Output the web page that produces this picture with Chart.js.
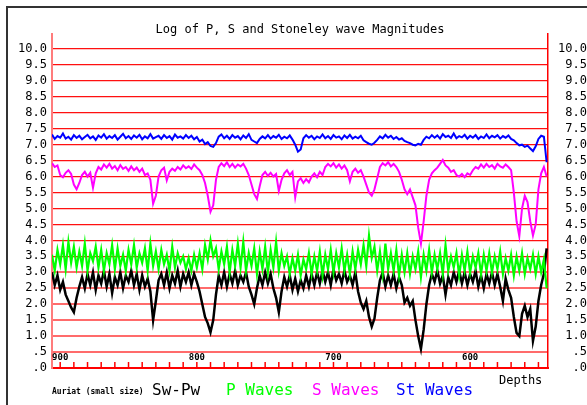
<!DOCTYPE html>
<html lang="en">
  <head>
    <meta charset="UTF-8" />
    <title>Log of P, S and Stoneley wave Magnitudes</title>
    <style>
      body {
        margin: 0;
        background: #fff;
      }
      #wrap {
        width: 587px;
        height: 405px;
      }
    </style>
    <script src="https://cdn.jsdelivr.net/npm/chart.js"></script>
  </head>
  <body>
    <div id="wrap"><canvas id="logChart" width="587" height="405"></canvas></div>
    <script>
      // depth samples (x axis, reversed: 906 on the left, 544 on the right)
      const depths = [
        906, 904, 902, 900, 898, 896, 894, 892, 890, 888,
        886, 884, 882, 880, 878, 876, 874, 872, 870, 868,
        866, 864, 862, 860, 858, 856, 854, 852, 850, 848,
        846, 844, 842, 840, 838, 836, 834, 832, 830, 828,
        826, 824, 822, 820, 818, 816, 814, 812, 810, 808,
        806, 804, 802, 800, 798, 796, 794, 792, 790, 788,
        786, 784, 782, 780, 778, 776, 774, 772, 770, 768,
        766, 764, 762, 760, 758, 756, 754, 752, 750, 748,
        746, 744, 742, 740, 738, 736, 734, 732, 730, 728,
        726, 724, 722, 720, 718, 716, 714, 712, 710, 708,
        706, 704, 702, 700, 698, 696, 694, 692, 690, 688,
        686, 684, 682, 680, 678, 676, 674, 672, 670, 668,
        666, 664, 662, 660, 658, 656, 654, 652, 650, 648,
        646, 644, 642, 640, 638, 636, 634, 632, 630, 628,
        626, 624, 622, 620, 618, 616, 614, 612, 610, 608,
        606, 604, 602, 600, 598, 596, 594, 592, 590, 588,
        586, 584, 582, 580, 578, 576, 574, 572, 570, 568,
        566, 564, 562, 560, 558, 556, 554, 552, 550, 548,
        546, 544
      ];

      // Stoneley wave magnitudes (blue)
      const stWaves = [
        7.32, 7.18, 7.27, 7.22, 7.35, 7.19, 7.25, 7.16, 7.30, 7.21,
        7.28, 7.17, 7.24, 7.31, 7.20, 7.26, 7.15, 7.29, 7.22, 7.33,
        7.19, 7.27, 7.21, 7.30, 7.16, 7.25, 7.34, 7.20, 7.27, 7.18,
        7.29, 7.22, 7.31, 7.17, 7.26, 7.20, 7.33, 7.19, 7.24, 7.28,
        7.18, 7.30, 7.21, 7.27, 7.16, 7.32, 7.22, 7.26, 7.19, 7.30,
        7.21, 7.28, 7.17, 7.24, 7.10, 7.16, 7.02, 7.08, 6.96, 6.93,
        7.05, 7.25, 7.32, 7.20, 7.28, 7.18, 7.30, 7.22, 7.27, 7.17,
        7.29, 7.21, 7.33, 7.15, 7.10, 7.05, 7.18, 7.26, 7.20, 7.30,
        7.19, 7.27, 7.22, 7.31, 7.18, 7.25, 7.20, 7.29, 7.16, 7.00,
        6.78, 6.85, 7.20, 7.30, 7.22, 7.28, 7.17, 7.26, 7.21, 7.32,
        7.20, 7.27, 7.18, 7.30, 7.22, 7.26, 7.17, 7.29, 7.21, 7.31,
        7.19, 7.25, 7.20, 7.28, 7.14, 7.08, 7.03, 7.00, 7.06, 7.15,
        7.26, 7.20, 7.31, 7.22, 7.28, 7.18, 7.24, 7.16, 7.20, 7.12,
        7.08, 7.05, 7.00, 6.98, 7.03, 7.00, 7.15, 7.25, 7.20, 7.30,
        7.22, 7.29, 7.19, 7.33, 7.24, 7.28, 7.21, 7.35, 7.20, 7.27,
        7.23, 7.31, 7.19, 7.28, 7.22, 7.30, 7.18, 7.26, 7.21, 7.32,
        7.20, 7.28, 7.23, 7.30, 7.19, 7.27, 7.22, 7.29, 7.18, 7.14,
        7.05, 6.98, 7.00, 6.93, 6.97, 6.88, 6.80, 6.95, 7.18, 7.28,
        7.25, 6.45
      ];

      // S wave magnitudes (magenta)
      const sWaves = [
        6.42, 6.30, 6.35, 6.05, 5.98, 6.12, 6.20, 6.08, 5.75, 5.60,
        5.80, 6.05, 6.15, 6.00, 6.12, 5.65, 6.10, 6.30, 6.22, 6.38,
        6.28, 6.40, 6.25, 6.33, 6.20, 6.36, 6.24, 6.30, 6.18, 6.32,
        6.20, 6.28, 6.15, 6.25, 6.05, 6.10, 5.90, 5.15, 5.40, 6.00,
        6.20, 6.28, 5.88, 6.15, 6.25, 6.18, 6.30, 6.22, 6.35, 6.26,
        6.32, 6.24, 6.38, 6.28, 6.20, 6.05, 5.80, 5.40, 4.90, 5.10,
        5.90, 6.30, 6.42, 6.33, 6.45, 6.30, 6.40, 6.28, 6.38, 6.32,
        6.40, 6.25, 6.05, 5.75, 5.45, 5.30, 5.70, 6.05, 6.15, 6.02,
        6.12, 6.00, 6.08, 5.55, 5.90, 6.10, 6.20, 6.05, 6.15, 5.35,
        5.85, 5.95, 5.80, 5.92, 5.82, 6.00, 6.10, 5.98, 6.15, 6.05,
        6.30, 6.40, 6.32, 6.42, 6.28, 6.38, 6.25, 6.35, 6.20, 5.85,
        6.15, 6.25, 6.12, 6.20, 6.00, 5.75, 5.50, 5.40, 5.60, 5.95,
        6.30, 6.42, 6.35, 6.45, 6.32, 6.40, 6.30, 6.15, 5.90, 5.60,
        5.45, 5.60, 5.35, 5.10, 4.40, 3.90, 4.60, 5.40, 5.90, 6.10,
        6.20, 6.28, 6.40, 6.52, 6.35, 6.28, 6.15, 6.20, 6.05, 6.00,
        6.08, 5.98, 6.10, 6.05, 6.20, 6.30, 6.25, 6.38, 6.28, 6.40,
        6.30, 6.36, 6.25, 6.40, 6.32, 6.28, 6.38, 6.30, 6.20, 5.50,
        4.60, 4.13, 5.00, 5.40, 5.20, 4.60, 4.15, 4.50, 5.60, 6.10,
        6.30, 6.00
      ];

      // P wave magnitudes (green)
      const pWaves = [
        3.55, 3.05, 3.70, 3.25, 3.85, 3.10, 3.95, 3.30, 3.80, 3.15,
        3.65, 3.20, 3.90, 3.05, 3.60, 3.35, 3.80, 3.15, 3.70, 3.05,
        3.60, 3.25, 3.85, 3.10, 3.75, 3.20, 3.55, 3.05, 3.70, 3.25,
        3.85, 3.15, 3.60, 3.30, 3.75, 3.05, 3.90, 3.20, 3.65, 3.10,
        3.70, 3.25, 3.55, 3.05, 3.80, 3.15, 3.60, 3.30, 3.50, 3.10,
        3.45, 3.05, 3.55, 3.15, 3.60, 3.10, 3.85, 3.40, 4.00, 3.50,
        3.75, 3.10, 3.65, 3.25, 3.80, 3.00, 3.70, 3.20, 3.90, 3.15,
        3.95, 3.05, 3.60, 3.20, 3.75, 2.95, 3.65, 3.10, 3.80, 3.00,
        3.70, 3.15, 3.95, 3.05, 3.60, 3.20, 3.50, 2.95, 3.45, 3.05,
        3.55, 2.90, 3.40, 3.10, 3.60, 2.95, 3.50, 3.05, 3.65, 2.90,
        3.55, 3.10, 3.70, 3.00, 3.60, 3.15, 3.75, 3.05, 3.55, 2.95,
        3.65, 3.10, 3.70, 3.25, 3.85, 3.20, 4.15, 3.45, 3.80, 3.05,
        3.65, 2.95, 3.90, 3.10, 3.60, 3.05, 3.70, 2.90, 3.55, 3.00,
        3.60, 2.95, 3.50, 3.10, 3.65, 2.85, 3.55, 3.05, 3.70, 3.00,
        3.55, 3.10, 3.60, 2.95, 3.85, 3.05, 3.50, 3.15, 3.60, 2.90,
        3.55, 3.05, 3.65, 3.00, 3.50, 3.15, 3.60, 2.95, 3.55, 3.05,
        3.60, 3.00, 3.50, 3.10, 3.65, 2.95, 3.45, 3.05, 3.55, 2.90,
        3.50, 3.05, 3.60, 2.95, 3.45, 3.10, 3.55, 2.95, 3.50, 3.00,
        3.40, 2.50
      ];

      // Sw-Pw (black)
      const swPw = [
        3.00, 2.60, 2.90, 2.45, 2.70, 2.30, 2.10, 1.90, 1.75, 2.20,
        2.55, 2.85, 2.50, 2.95, 2.60, 3.00, 2.45, 2.90, 2.65, 3.05,
        2.55, 2.95, 2.35, 2.85, 2.60, 3.00, 2.50, 2.90, 2.70, 3.05,
        2.60, 2.95, 2.45, 2.90, 2.55, 2.80, 2.40, 1.50, 2.10, 2.75,
        2.95, 2.60, 3.00, 2.50, 2.90, 2.65, 3.05, 2.55, 2.95, 2.70,
        3.00, 2.60, 2.95, 2.70, 2.40, 2.00, 1.60, 1.40, 1.12, 1.50,
        2.30, 2.90, 2.60, 3.00, 2.55, 2.95, 2.65, 3.05, 2.60, 2.90,
        2.70, 3.00, 2.55, 2.30, 2.00, 2.50, 2.90, 2.60, 3.00, 2.65,
        2.95, 2.50, 2.20, 1.75, 2.40, 2.85, 2.55, 2.90, 2.45, 2.80,
        2.40, 2.75, 2.50, 2.90, 2.55, 2.95, 2.60, 3.00, 2.65, 3.05,
        2.70, 3.00, 2.60, 3.10, 2.75, 2.95, 2.65, 3.05, 2.70, 2.90,
        2.60, 3.00, 2.40, 2.05, 1.85, 2.10, 1.60, 1.30, 1.55, 2.20,
        2.75, 3.00, 2.55, 2.90, 2.60, 2.95, 2.50, 2.85, 2.60, 2.05,
        2.20, 1.95, 2.10, 1.50, 1.00, 0.60, 1.20, 2.00, 2.60, 2.95,
        2.70, 3.05, 2.65, 2.90, 2.30, 2.85, 2.60, 3.00, 2.70, 3.05,
        2.65, 3.00, 2.60, 2.95, 2.70, 3.05, 2.55, 2.90, 2.50, 2.95,
        2.65, 3.00, 2.60, 2.95, 2.55, 2.10, 2.80, 2.45, 2.20, 1.60,
        1.10, 1.00, 1.70, 1.95, 1.60, 1.85, 0.85, 1.30, 2.10, 2.60,
        2.95, 3.75
      ];

      const depthTicks = [900, 890, 880, 870, 860, 850, 840, 830, 820, 810, 800, 790, 780, 770, 760, 750,
        740, 730, 720, 710, 700, 690, 680, 670, 660, 650, 640, 630, 620, 610, 600, 590, 580, 570, 560, 550];
      const depthLabels = [900, 800, 700, 600];
      const magTicks = [0, 0.5, 1, 1.5, 2, 2.5, 3, 3.5, 4, 4.5, 5, 5.5, 6, 6.5, 7, 7.5, 8, 8.5, 9, 9.5, 10];

      const MONO = "'DejaVu Sans Mono', monospace";

      function pts(vals) {
        return vals.map((v, i) => ({ x: depths[i], y: v }));
      }

      function magLabel(v) {
        if (v < 1) return v === 0 ? ".0" : ".5";
        return v.toFixed(1);
      }

      function setMagTicks(scale) {
        scale.ticks = magTicks.map((v) => ({ value: v }));
      }

      // frame, title, bottom ticks and captions
      const decorations = {
        id: "decorations",
        afterDraw(chart) {
          const ctx = chart.ctx;
          const area = chart.chartArea;
          const xs = chart.scales.x;
          ctx.save();

          // outer frame (top and left only show in the window)
          ctx.strokeStyle = "#333";
          ctx.lineWidth = 2;
          ctx.beginPath();
          ctx.moveTo(7, 405);
          ctx.lineTo(7, 7);
          ctx.lineTo(587, 7);
          ctx.stroke();

          // inward depth ticks
          ctx.strokeStyle = "#ff0000";
          ctx.lineWidth = 1.5;
          depthTicks.forEach((d) => {
            const px = xs.getPixelForValue(d);
            ctx.beginPath();
            ctx.moveTo(px, area.bottom);
            ctx.lineTo(px, area.bottom - 6);
            ctx.stroke();
          });

          ctx.fillStyle = "#000";
          ctx.textAlign = "center";
          ctx.textBaseline = "alphabetic";
          ctx.font = "bold 9px " + MONO;
          depthLabels.forEach((d) => {
            ctx.fillText(String(d), xs.getPixelForValue(d), area.bottom - 8);
          });

          // title
          ctx.font = "12px " + MONO;
          ctx.fillText("Log of P, S and Stoneley wave Magnitudes", 300, 33);

          // captions under the plot
          ctx.textAlign = "left";
          ctx.font = "bold 8px " + MONO;
          ctx.fillText("Auriat (small size)", 52, 394);
          ctx.font = "16px " + MONO;
          ctx.fillText("Sw-Pw", 152, 395);
          ctx.fillStyle = "#00ff00";
          ctx.fillText("P Waves", 226, 395);
          ctx.fillStyle = "#ff00ff";
          ctx.fillText("S Waves", 312, 395);
          ctx.fillStyle = "#0000ff";
          ctx.fillText("St Waves", 396, 395);
          ctx.fillStyle = "#000";
          ctx.font = "12px " + MONO;
          ctx.fillText("Depths", 499, 384);

          ctx.restore();
        },
      };

      function line(label, vals, color, width) {
        return {
          label: label,
          data: pts(vals),
          borderColor: color,
          backgroundColor: color,
          borderWidth: width,
          pointRadius: 0,
          tension: 0,
          fill: false,
        };
      }

      const magTickOpts = {
        autoSkip: false,
        color: "#000",
        font: { family: MONO, size: 12 },
        callback: (v) => magLabel(v),
      };

      new Chart(document.getElementById("logChart"), {
        type: "line",
        data: {
          datasets: [
            line("St Waves", stWaves, "#0000ff", 2),
            line("S Waves", sWaves, "#ff00ff", 2),
            line("P Waves", pWaves, "#00ff00", 2.2),
            line("Sw-Pw", swPw, "#000000", 2.5),
          ],
        },
        options: {
          responsive: false,
          animation: false,
          layout: { padding: { top: 34, left: 0, right: 0, bottom: 0 } },
          plugins: {
            legend: { display: false },
            title: { display: false },
            tooltip: { enabled: false },
          },
          scales: {
            x: {
              type: "linear",
              min: 543,
              max: 906,
              reverse: true,
              ticks: { display: false },
              grid: { display: false, drawTicks: false },
              border: { display: true, color: "#ff0000", width: 2 },
              afterFit(scale) {
                scale.height = 37;
              },
            },
            y: {
              position: "left",
              min: 0,
              max: 10.47,
              afterBuildTicks: setMagTicks,
              afterFit(scale) {
                scale.width = 52;
              },
              ticks: Object.assign({ padding: 5 }, magTickOpts),
              grid: {
                drawTicks: false,
                color: (c) => (c.tick && c.tick.value <= 3 ? "rgba(255,70,70,0.8)" : "#ff1010"),
                lineWidth: (c) => (c.tick && c.tick.value <= 3 ? 2 : 1.3),
              },
              border: { display: true, color: "#ff7c7c", width: 2 },
            },
            y2: {
              position: "right",
              min: 0,
              max: 10.47,
              afterBuildTicks: setMagTicks,
              afterFit(scale) {
                scale.width = 39;
              },
              ticks: Object.assign({ padding: 6, crossAlign: "far" }, magTickOpts),
              grid: { drawOnChartArea: false, drawTicks: false },
              border: { display: true, color: "#ff0000", width: 1.5 },
            },
          },
        },
        plugins: [decorations],
      });
    </script>
  </body>
</html>
